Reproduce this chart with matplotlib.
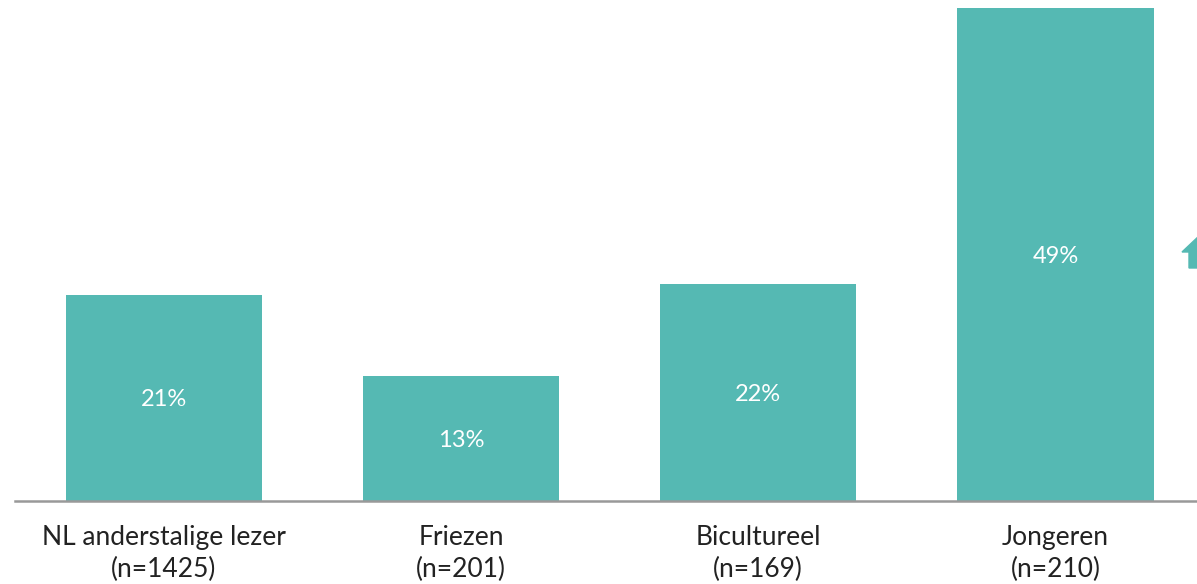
import matplotlib.pyplot as plt
from matplotlib.patches import Polygon

categories = ['NL anderstalige lezer\n(n=1425)', 'Friezen\n(n=201)', 'Bicultureel\n(n=169)', 'Jongeren\n(n=210)']
values = [20.5, 12.4, 21.6, 49.0]
value_labels = ['21%', '13%', '22%', '49%']

teal = '#55B9B3'

plt.rcParams['font.family'] = ['Lato', 'DejaVu Sans']

W, H = 1197, 584
fig = plt.figure(figsize=(W / 100, H / 100), dpi=100)

# axes placed in pixel terms: baseline at y=501, left end of line at x=15
ax = fig.add_axes([15 / W, (H - 501) / H, (1197 - 15) / W, (501 - 8) / H])

x = list(range(len(categories)))
bars = ax.bar(x, values, width=0.66, color=teal, zorder=2)

for b, lab in zip(bars, value_labels):
    ax.text(b.get_x() + b.get_width() / 2, b.get_height() / 2, lab,
            ha='center', va='center_baseline', color='white', fontsize=17)

ax.set_xlim(-0.5, 3.476)
ax.set_ylim(0, 49.0)
ax.set_xticks(x)
ax.set_xticklabels(categories, fontsize=19, color='#222222', linespacing=1.38)
ax.tick_params(axis='x', length=0, pad=17)
ax.set_yticks([])

for s in ['top', 'right', 'left']:
    ax.spines[s].set_visible(False)
ax.spines['bottom'].set_color('#999999')
ax.spines['bottom'].set_linewidth(1.8)
ax.spines['bottom'].set_zorder(3)

# partial arrow cut off at the right edge
pts = [(1200, 235), (1218, 252), (1211, 252), (1211, 268), (1189, 268), (1189, 252), (1182, 252)]
arrow = Polygon([(px / W, (H - py) / H) for px, py in pts], closed=True,
                transform=fig.transFigure, color=teal, clip_on=False)
fig.patches.append(arrow)

plt.savefig('out.png', dpi=100)
